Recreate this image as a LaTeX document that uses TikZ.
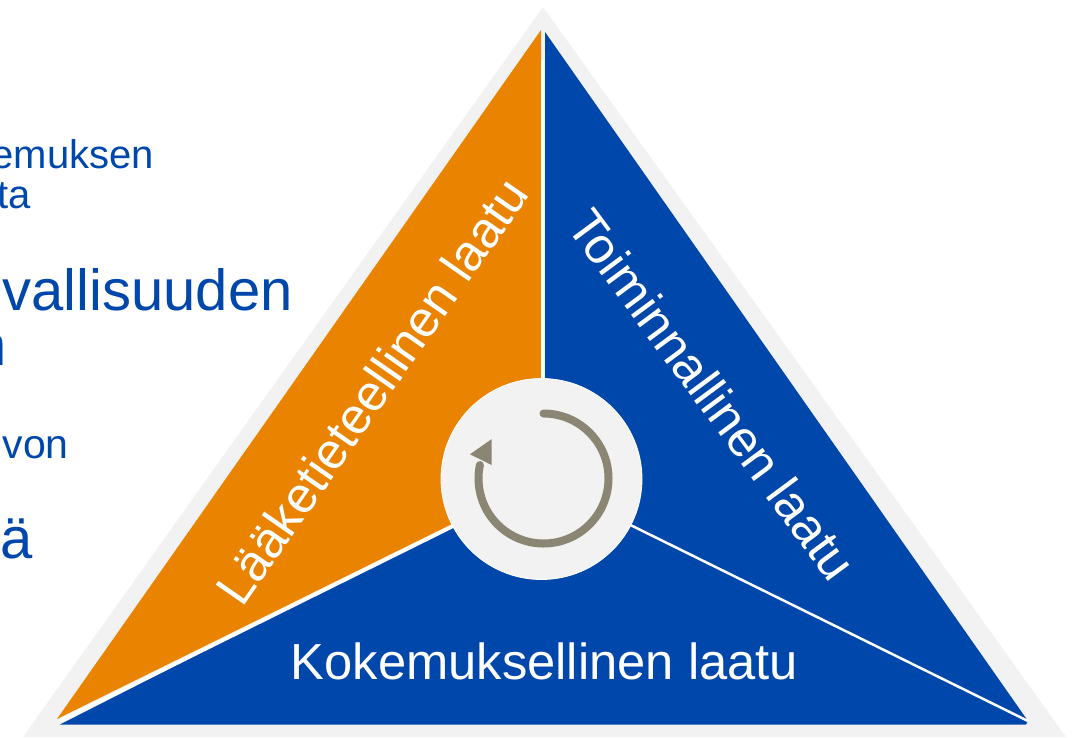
\documentclass[tikz,border=0pt]{standalone}
\usepackage{fontspec}
\setmainfont{Liberation Sans}
\definecolor{qblue}{HTML}{0047AB}
\definecolor{qorange}{HTML}{EA8300}
\definecolor{qgray}{HTML}{F2F2F2}
\definecolor{qarrow}{HTML}{8B8674}
\tikzset{
  x=1pt,y=-1pt,
  thindivider/.style={white,line width=2.5pt},
  lefttext/.style={anchor=base east,inner sep=0pt,text=qblue},
  whitetext/.style={inner sep=0pt,text=white,font=\fontsize{50.7}{55}\selectfont}
}
\begin{document}
\begin{tikzpicture}
\useasboundingbox (0,0) rectangle (1076,737);
\begin{scope}
\clip (0,0) rectangle (1076,737);
% outer triangle
\fill[qgray] (543,7) -- (1066,737) -- (23,737) -- cycle;
% sectors
\fill[qorange] (541,30) -- (541,480) -- (57,719) -- cycle;
\fill[qblue] (545,32) -- (1028,721) -- (1026,724.5) -- (60,724.5) -- (541,480) -- (545,480) -- cycle;
% dividers
\draw[white,line width=2.5pt] (542.5,60) -- (542.5,400);
\draw[white,line width=3.5pt] (60,721) -- (500,503);
\draw[thindivider] (1028,721) -- (600,510);
% centre disc
\fill[qgray,draw=white,line width=0.8pt] (541.5,479) circle[radius=100.5];
% cycle arrow
\draw[qarrow,line width=8pt,line cap=round] (543.5,413.5) arc[start angle=-90,end angle=192,radius=65];
\fill[qarrow] (491.7,439) -- (470,454.3) -- (491.7,465) -- cycle;
% labels
\node[lefttext,font=\fontsize{40}{44}\selectfont] (t1) at (154,168) {emuksen};
\node[lefttext,font=\fontsize{40}{44}\selectfont] (t2) at (31,208) {ta};
\node[lefttext,font=\fontsize{58}{62}\selectfont] (t3) at (293,310) {vallisuuden};
\node[lefttext,font=\fontsize{58}{62}\selectfont] (t4) at (7,365) {n};
\node[lefttext,font=\fontsize{41}{44}\selectfont] (t5) at (69,458) {von};
\node[lefttext,font=\fontsize{58}{62}\selectfont] (t6) at (32.5,558) {ä};
\node[whitetext] (m1) at (544.5,661) {Kokemuksellinen laatu};
\node[whitetext,rotate=55.2] (m2) at (371.5,391) {Lääketieteellinen laatu};
\node[whitetext,rotate=-53.5] (m3) at (712.5,394.5) {Toiminnallinen laatu};
\end{scope}
\end{tikzpicture}
\end{document}
